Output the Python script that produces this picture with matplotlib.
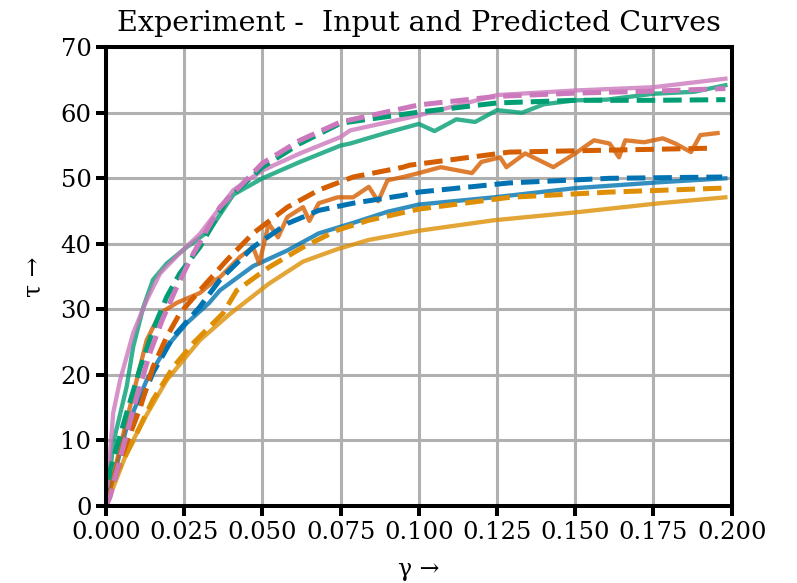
import numpy as np
import matplotlib.pyplot as plt

# gamma / tau readings, experimental (solid) and predicted (dashed)
blue_x = [0.0, 0.0066, 0.013, 0.0194, 0.0258, 0.033, 0.0364, 0.047, 0.058, 0.068, 0.079, 0.090, 0.100, 0.124, 0.150, 0.177, 0.198]
blue_y = [0.0, 12.0, 19.2, 24.3, 27.9, 31.0, 32.9, 36.6, 39.0, 41.6, 43.2, 44.9, 46.0, 47.1, 48.5, 49.4, 50.0]
blue_px = [0.0, 0.0087, 0.015, 0.0215, 0.030, 0.0364, 0.047, 0.058, 0.068, 0.079, 0.095, 0.100, 0.129, 0.161, 0.197]
blue_py = [0.0, 13.1, 20.3, 25.8, 30.4, 34.5, 39.5, 43.1, 45.1, 46.2, 47.4, 47.9, 49.3, 50.0, 50.2]

orange_x = [0.0, 0.0066, 0.012, 0.0194, 0.030, 0.0396, 0.052, 0.063, 0.074, 0.084, 0.100, 0.124, 0.150, 0.177, 0.198]
orange_y = [0.0, 8.1, 13.1, 19.2, 25.3, 29.3, 33.9, 37.3, 39.2, 40.6, 42.0, 43.6, 44.8, 46.2, 47.1]
orange_px = [0.0, 0.0023, 0.0087, 0.015, 0.0215, 0.028, 0.0374, 0.0418, 0.052, 0.063, 0.074, 0.084, 0.100, 0.129, 0.161, 0.197]
orange_py = [0.0, 4.0, 10.0, 16.2, 21.2, 24.9, 29.4, 32.9, 36.4, 39.5, 42.1, 43.6, 45.3, 47.1, 47.9, 48.5]

green_x = [0.0, 0.0025, 0.0066, 0.0087, 0.0119, 0.015, 0.0194, 0.0258, 0.033, 0.0407, 0.050, 0.062, 0.075, 0.078, 0.090,
           0.100, 0.105, 0.112, 0.118, 0.125, 0.133, 0.140, 0.150, 0.160, 0.175, 0.188, 0.198]
green_y = [0.0, 10.0, 18.2, 24.3, 30.3, 34.5, 37.0, 39.5, 42.0, 47.5, 50.0, 52.5, 55.0, 55.3, 57.0,
           58.3, 57.2, 59.0, 58.6, 60.4, 60.0, 61.3, 61.9, 62.0, 62.9, 63.2, 64.2]
green_px = [0.0, 0.0013, 0.0066, 0.011, 0.015, 0.0194, 0.0236, 0.030, 0.0386, 0.050, 0.062, 0.075, 0.100, 0.125, 0.150, 0.175, 0.198]
green_py = [0.0, 5.5, 14.2, 21.2, 26.8, 31.9, 35.5, 39.5, 46.7, 51.7, 55.3, 58.4, 60.1, 61.5, 61.9, 61.9, 62.0]

red_x = [0.0, 0.0066, 0.013, 0.0173, 0.0226, 0.030, 0.035, 0.0364, 0.0428, 0.047, 0.049, 0.052, 0.055, 0.058, 0.063, 0.065, 0.068,
         0.074, 0.079, 0.084, 0.087, 0.090, 0.095, 0.100, 0.107, 0.117, 0.120, 0.126, 0.128, 0.134, 0.143, 0.150,
         0.156, 0.161, 0.164, 0.166, 0.172, 0.178, 0.182, 0.187, 0.190, 0.1955]
red_y = [0.0, 13.1, 25.3, 29.4, 31.0, 32.5, 34.5, 34.9, 38.0, 39.5, 37.0, 43.1, 41.0, 44.1, 45.6, 43.5, 46.2,
         47.1, 47.1, 48.7, 46.5, 49.7, 50.2, 50.8, 51.7, 50.8, 52.5, 53.2, 51.7, 53.8, 51.7, 53.8,
         55.8, 55.3, 53.2, 55.8, 55.5, 56.1, 55.3, 54.0, 56.6, 56.9]
red_px = [0.0, 0.0045, 0.011, 0.015, 0.0194, 0.0236, 0.030, 0.0386, 0.047, 0.058, 0.068, 0.079, 0.095, 0.097, 0.129, 0.161, 0.194]
red_py = [0.0, 7.0, 15.1, 21.2, 25.8, 29.4, 32.9, 37.5, 41.6, 45.6, 48.2, 50.2, 51.7, 52.0, 54.0, 54.3, 54.6]

pink_x = [0.0, 0.0023, 0.0045, 0.0087, 0.013, 0.0173, 0.0236, 0.030, 0.0407, 0.050, 0.062, 0.075, 0.078, 0.100, 0.125, 0.150, 0.175, 0.198]
pink_y = [0.0, 14.2, 19.2, 26.4, 31.4, 35.5, 38.6, 41.5, 48.2, 51.2, 53.8, 56.3, 57.3, 59.6, 62.7, 63.4, 63.9, 65.2]
pink_px = [0.0, 0.0013, 0.0055, 0.0098, 0.014, 0.018, 0.0226, 0.028, 0.0364, 0.050, 0.062, 0.075, 0.078, 0.100, 0.125, 0.150, 0.175, 0.198]
pink_py = [0.0, 1.4, 9.0, 16.6, 23.3, 28.4, 33.4, 38.6, 45.6, 52.3, 55.8, 58.6, 58.9, 61.2, 62.5, 63.0, 63.3, 63.7]

colors = ["#0173b2", "#de8f05", "#029e73", "#d55e00", "#cc78bc"]
solid = [(blue_x, blue_y), (orange_x, orange_y), (green_x, green_y), (red_x, red_y), (pink_x, pink_y)]
dashed = [(blue_px, blue_py), (orange_px, orange_py), (green_px, green_py), (red_px, red_py), (pink_px, pink_py)]

plt.rcParams["font.family"] = "DejaVu Serif"
fig = plt.figure(figsize=(7.97, 5.83), dpi=100)
ax = fig.add_axes([0.133, 0.132, 0.785, 0.787])

for (x, y), c in zip(solid, colors):
    ax.plot(x, y, color=c, alpha=0.8, lw=3.1)
for (x, y), c in zip(dashed, colors):
    ax.plot(x, y, color=c, lw=3.6, ls="--")

ax.set_xlim(0, 0.2)
ax.set_ylim(0, 70)
ax.set_xticks(np.arange(0, 0.2001, 0.025))
ax.set_yticks(np.arange(0, 71, 10))
ax.grid(True, color="#b0b0b0", lw=2.2)
ax.set_axisbelow(True)
for s in ax.spines.values():
    s.set_linewidth(2.9)
ax.tick_params(width=2.9, length=7, labelsize=17.5)
ax.set_xlabel("γ →", fontsize=17, labelpad=10)
ax.set_ylabel("τ →", fontsize=17, labelpad=11)
ax.set_title("Experiment -  Input and Predicted Curves", fontsize=20.5, pad=12)

fig.savefig("out.png", dpi=100)
